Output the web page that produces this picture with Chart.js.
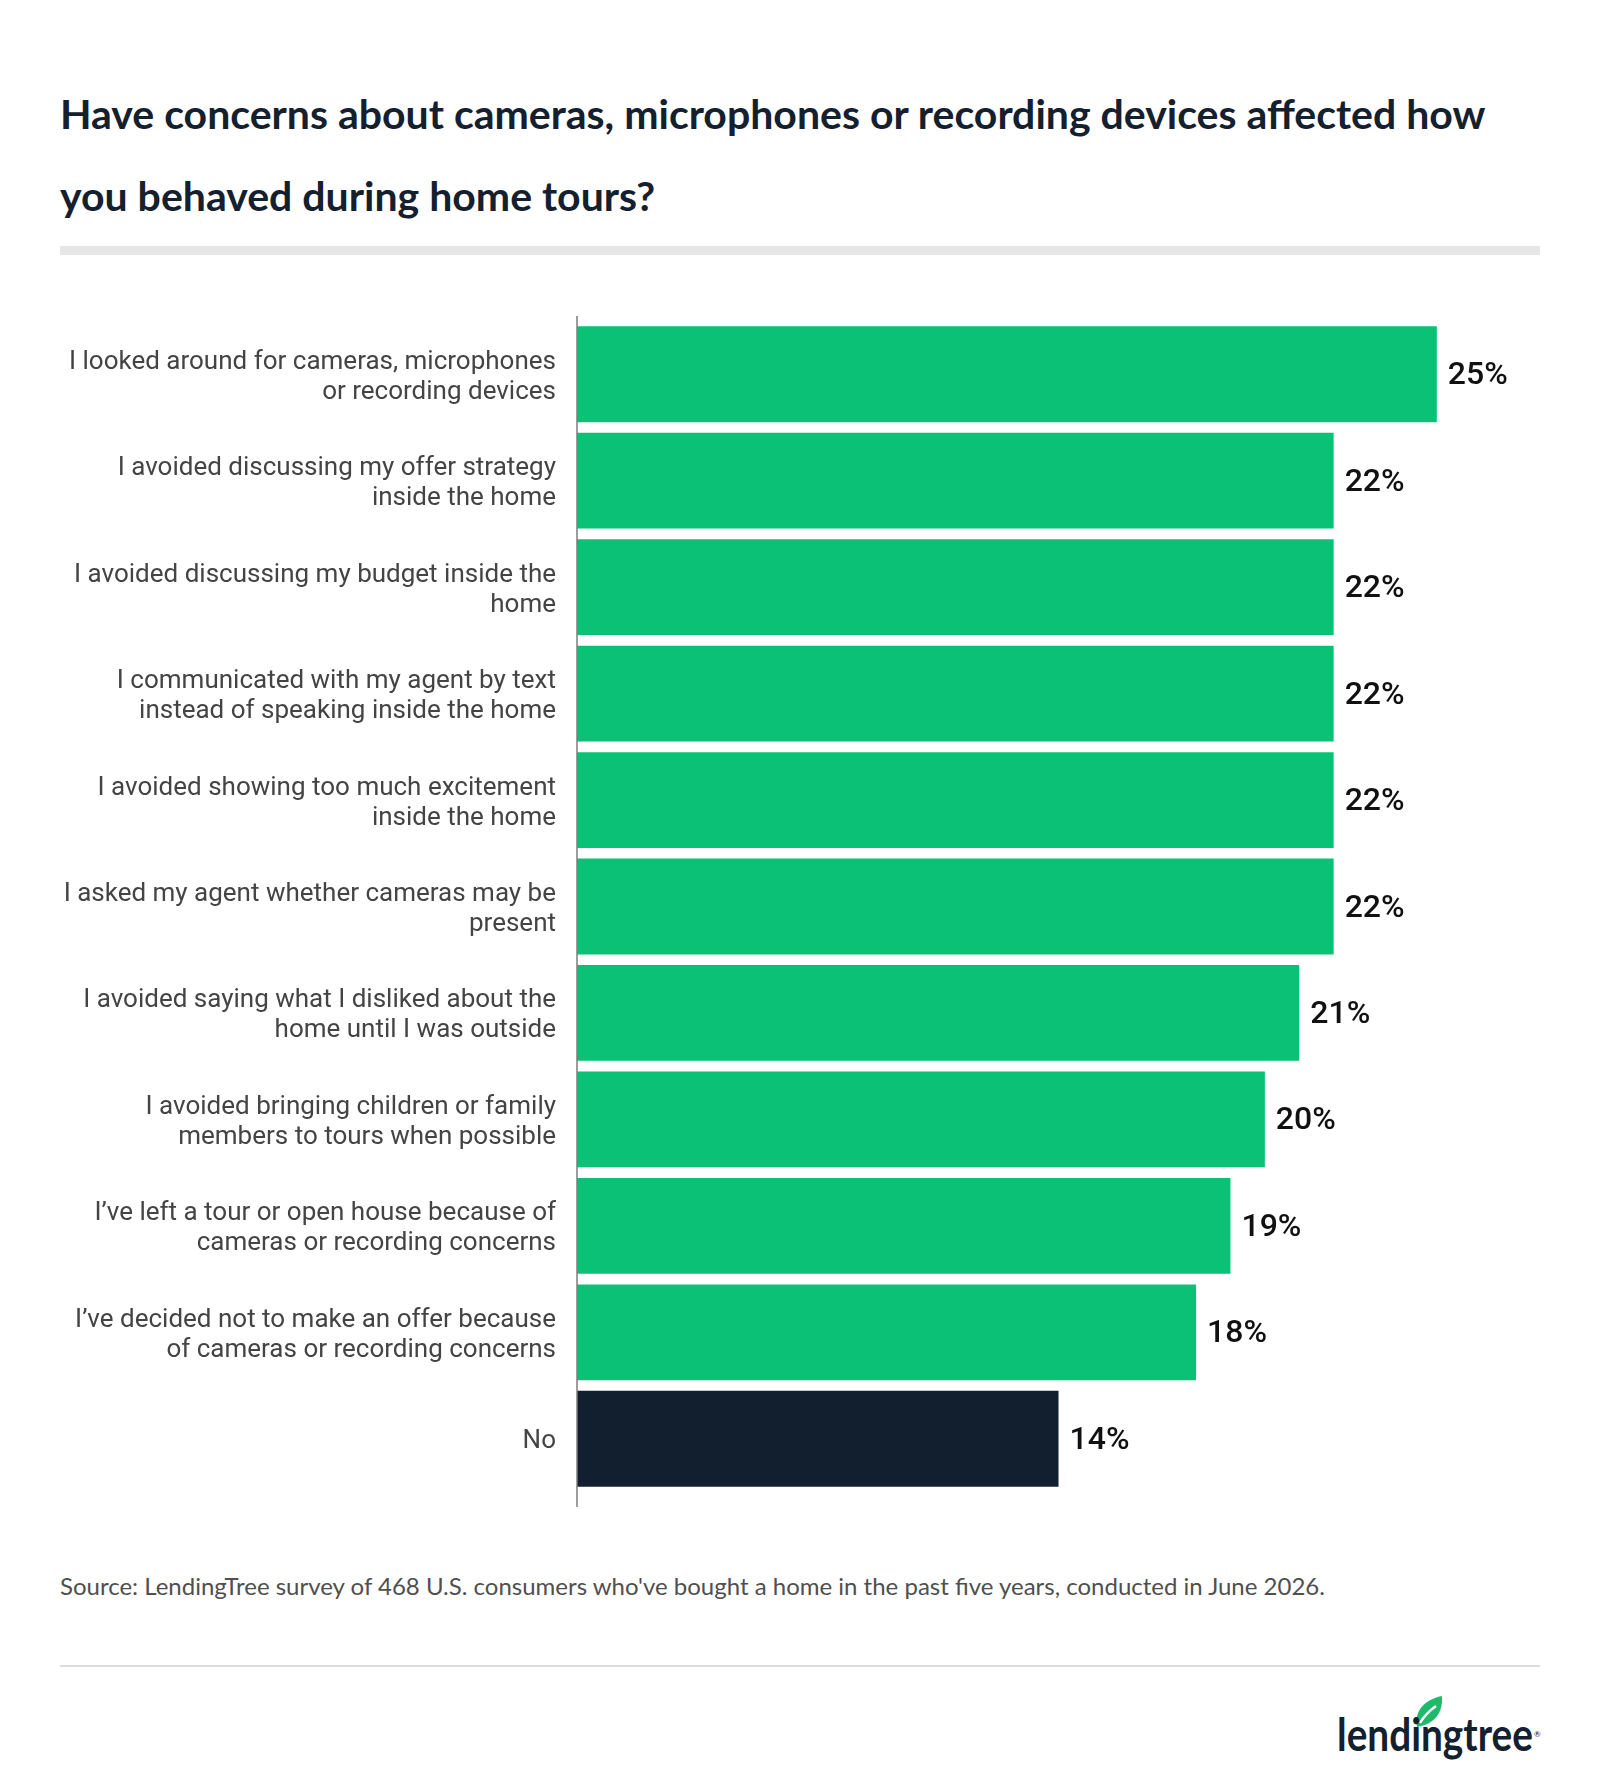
<!DOCTYPE html>
<html>
<head>
<meta charset="utf-8">
<script src="https://cdn.jsdelivr.net/npm/chart.js@4.4.1/dist/chart.umd.min.js"></script>
<style>
  body { margin: 0; background: #fff; width: 1600px; height: 1790px; position: relative; overflow: hidden; }
  #title { position: absolute; left: 60px; top: 73px; width: 1520px; font-family: Lato, sans-serif; font-weight: 700; font-size: 41px; line-height: 82px; color: #14202e; }
  #rule1 { position: absolute; left: 60px; top: 246px; width: 1480px; height: 9px; background: #e6e6e6; }
  #chartBox { position: absolute; left: 0; top: 300px; width: 1600px; height: 1220px; }
  #source { position: absolute; left: 60px; top: 1573px; font-family: Lato, sans-serif; font-size: 24px; line-height: 26px; color: #4f4f4f; }
  #rule2 { position: absolute; left: 60px; top: 1665px; width: 1480px; height: 2px; background: #dcdcdc; }
  #logo { position: absolute; left: 1330px; top: 1690px; }
</style>
</head>
<body>
<div id="title">Have concerns about cameras, microphones or recording devices affected how<br>you behaved during home tours?</div>
<div id="rule1"></div>
<div id="chartBox"><canvas id="chart"></canvas></div>
<div id="source">Source: LendingTree survey of 468 U.S. consumers who've bought a home in the past five years, conducted in June 2026.</div>
<div id="rule2"></div>
<svg id="logo" width="220" height="80" viewBox="0 0 220 80">
  <path d="M87 37 C84 21 94 10 112 6 C113 24 104 34 87 37 Z" fill="#1dba6c"/>
  <path d="M90 33 C94 26 99 21 106 16" stroke="#fff" stroke-width="2.5" fill="none"/>
  <text x="7" y="61" font-family="Lato, sans-serif" font-weight="700" font-size="46" fill="#13202f" textLength="196" lengthAdjust="spacingAndGlyphs">lendingtree</text>
  <text x="204" y="47" font-family="Lato, sans-serif" font-size="8" fill="#13202f">®</text>
</svg>

<script>
// categories, shown top to bottom
const categories = [
  ["I looked around for cameras, microphones", "or recording devices"],
  ["I avoided discussing my offer strategy", "inside the home"],
  ["I avoided discussing my budget inside the", "home"],
  ["I communicated with my agent by text", "instead of speaking inside the home"],
  ["I avoided showing too much excitement", "inside the home"],
  ["I asked my agent whether cameras may be", "present"],
  ["I avoided saying what I disliked about the", "home until I was outside"],
  ["I avoided bringing children or family", "members to tours when possible"],
  ["I\u2019ve left a tour or open house because of", "cameras or recording concerns"],
  ["I\u2019ve decided not to make an offer because", "of cameras or recording concerns"],
  "No"
];
// share of respondents, percent
const values = [25, 22, 22, 22, 22, 22, 21, 20, 19, 18, 14];

const GREEN = "#0bc176";
const NAVY = "#121f2f";
const barColors = categories.map(c => c === "No" ? NAVY : GREEN);

// draws the "25%" labels just past the end of each bar
const valueLabels = {
  id: "valueLabels",
  afterDatasetsDraw(chart) {
    const ctx = chart.ctx;
    const meta = chart.getDatasetMeta(0);
    ctx.save();
    ctx.font = "500 32px Roboto";
    ctx.fillStyle = "#111";
    ctx.textAlign = "left";
    ctx.textBaseline = "middle";
    meta.data.forEach((bar, i) => {
      ctx.fillText(values[i] + "%", bar.x + 11, bar.y + 2);
    });
    ctx.restore();
  }
};

// vertical axis line, a bit longer than the bar area
const axisLine = {
  id: "axisLine",
  afterDatasetsDraw(chart) {
    const ctx = chart.ctx;
    const a = chart.chartArea;
    ctx.save();
    ctx.strokeStyle = "#7d7d7d";
    ctx.lineWidth = 1.5;
    ctx.beginPath();
    ctx.moveTo(a.left, a.top - 5);
    ctx.lineTo(a.left, a.bottom + 15);
    ctx.stroke();
    ctx.restore();
  }
};

new Chart(document.getElementById("chart"), {
  type: "bar",
  data: {
    labels: categories,
    datasets: [{
      data: values,
      backgroundColor: barColors,
      borderWidth: 0,
      barPercentage: 0.9,
      categoryPercentage: 1
    }]
  },
  options: {
    indexAxis: "y",
    responsive: true,
    maintainAspectRatio: false,
    animation: false,
    layout: { padding: { left: 0, right: 60, top: 21, bottom: 28 } },
    plugins: { legend: { display: false }, tooltip: { enabled: false } },
    scales: {
      x: { display: false, min: 0, max: 28 },
      y: {
        grid: { display: false, drawTicks: false },
        border: { display: false },
        afterFit(scale) {
          scale.width = 577;
          scale.paddingTop = 0;
          scale.paddingBottom = 0;
        },
        ticks: {
          padding: 21,
          labelOffset: 3,
          color: "#444",
          font: { family: "Roboto", size: 26, lineHeight: 1.154 }
        }
      }
    }
  },
  plugins: [valueLabels, axisLine]
});
</script>
</body>
</html>
